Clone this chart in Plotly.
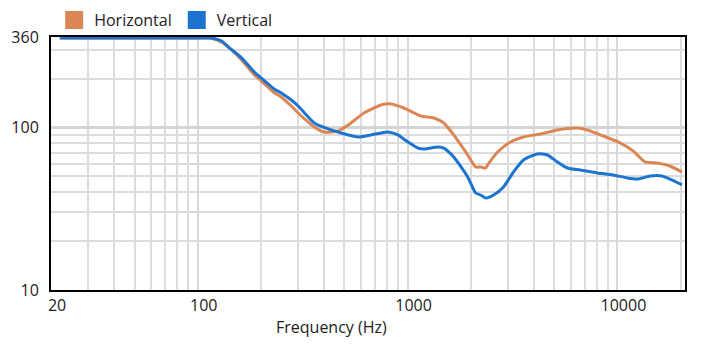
import plotly.graph_objects as go

# Frequency response data
freq_h = [22, 60, 104, 116, 130, 145, 162, 186, 201, 232, 250, 279, 301, 359, 400, 467,
          521, 620, 747, 833, 960, 1157, 1333, 1487, 1659, 1933, 2110, 2228, 2354, 2406,
          2685, 3094, 3566, 4296, 5173, 6437, 7181, 8554, 10300, 11870, 13540, 15440,
          17790, 20300]
val_h = [355, 355, 355, 353, 335, 300, 260, 210, 193, 163, 154, 135.5, 122.7, 100.6, 93.8,
         95.1, 103.5, 122.7, 137.4, 139.4, 131.7, 117.6, 114.3, 106.5, 89.9, 67.7, 57.1,
         57.1, 56.3, 58.8, 70.6, 81.4, 87.4, 91.1, 96.5, 99.2, 96.5, 88.6, 80.3, 71.7,
         61.3, 60.4, 57.9, 53.2]

freq_v = [22, 60, 104, 116, 130, 140, 162, 186, 201, 232, 250, 279, 301, 359, 432, 521,
          581, 669, 806, 899, 1003, 1119, 1195, 1393, 1487, 1659, 1933, 2110, 2228, 2354,
          2569, 2865, 3196, 3566, 4156, 4637, 5173, 5769, 6652, 8009, 9541, 11120, 12540,
          14300, 16300, 18180, 20300]
val_v = [355, 355, 355, 355, 340, 312, 267, 219, 201, 172, 163, 147.5, 135.5, 106.5, 96.5,
         89.9, 87.4, 89.9, 93.8, 89.9, 81.4, 74.7, 73.7, 75.8, 74.7, 65.8, 49.6, 39.5,
         38.4, 36.8, 38.4, 43.0, 53.2, 63.1, 68.7, 67.7, 61.3, 56.3, 54.7, 52.5, 51.0,
         48.9, 48.2, 50.3, 50.3, 47.5, 44.3]

series_names = ["Horizontal", "Vertical"]
colors = ["#DB8654", "#1C74CF"]

x_tickvals = [20, 100, 1000, 10000]
x_ticktext = ["20", "100", "1000", "10000"]
y_tickvals = [10, 100, 360]
y_ticktext = ["10", "100", "360"]

x_minor = [30, 40, 50, 60, 70, 80, 90, 200, 300, 400, 500, 600, 700, 800, 900,
           2000, 3000, 4000, 5000, 6000, 7000, 8000, 9000, 20000]
y_minor = [20, 30, 40, 50, 60, 70, 80, 90, 200, 300]

FONT = "Open Sans"
TXT = "#222222"
FS = 16

fig = go.Figure()
for name, xs, ys, c in [(series_names[0], freq_h, val_h, colors[0]),
                        (series_names[1], freq_v, val_v, colors[1])]:
    fig.add_trace(go.Scatter(x=xs, y=ys, mode="lines", name=name, legendgroup=name,
                             showlegend=False, line=dict(color=c, width=3, shape="spline",
                                                         smoothing=0.6)))
for name, c in zip(series_names, colors):
    fig.add_trace(go.Scatter(x=[None], y=[None], mode="markers", name=name, legendgroup=name,
                             marker=dict(symbol="square", size=16, color=c,
                                         line=dict(color=c, width=2))))

fig.update_layout(
    width=722, height=352,
    margin=dict(l=51, r=37, t=37, b=62, autoexpand=False),
    paper_bgcolor="white", plot_bgcolor="white",
    font=dict(family=FONT, size=FS, color=TXT),
    showlegend=True,
    legend=dict(orientation="h", x=0.005, xanchor="left", y=1.067, yanchor="middle",
                font=dict(family=FONT, size=FS, color=TXT), bgcolor="rgba(0,0,0,0)",
                itemclick=False, tracegroupgap=0),
    annotations=[dict(text="Frequency (Hz)", xref="paper", yref="paper",
                      x=(331 - 51) / 634, y=-(327 - 290) / 253, xanchor="center",
                      yanchor="middle", showarrow=False,
                      font=dict(family=FONT, size=FS, color=TXT))],
)

fig.update_xaxes(
    type="log", range=[1.3005, 4.322],
    tickmode="array", tickvals=x_tickvals, ticktext=x_ticktext,
    showgrid=True, gridcolor="#d9d9d9", gridwidth=2,
    minor=dict(tickmode="array", tickvals=x_minor, showgrid=True,
               gridcolor="#dcdcdc", gridwidth=2, ticklen=0),
    showline=True, linecolor="black", linewidth=2, mirror=True,
    ticks="", ticklabelshift=6, zeroline=False,
    tickfont=dict(family=FONT, size=FS, color=TXT),
)
fig.update_yaxes(
    type="log", range=[1, 2.5563],
    tickmode="array", tickvals=y_tickvals, ticktext=y_ticktext,
    showgrid=True, gridcolor="#d4d4d4", gridwidth=3,
    minor=dict(tickmode="array", tickvals=y_minor, showgrid=True,
               gridcolor="#dcdcdc", gridwidth=2, ticklen=0),
    showline=True, linecolor="black", linewidth=2, mirror=True,
    ticks="", ticklabelstandoff=7, zeroline=False,
    tickfont=dict(family=FONT, size=FS, color=TXT),
)

fig.write_html("out.html")
